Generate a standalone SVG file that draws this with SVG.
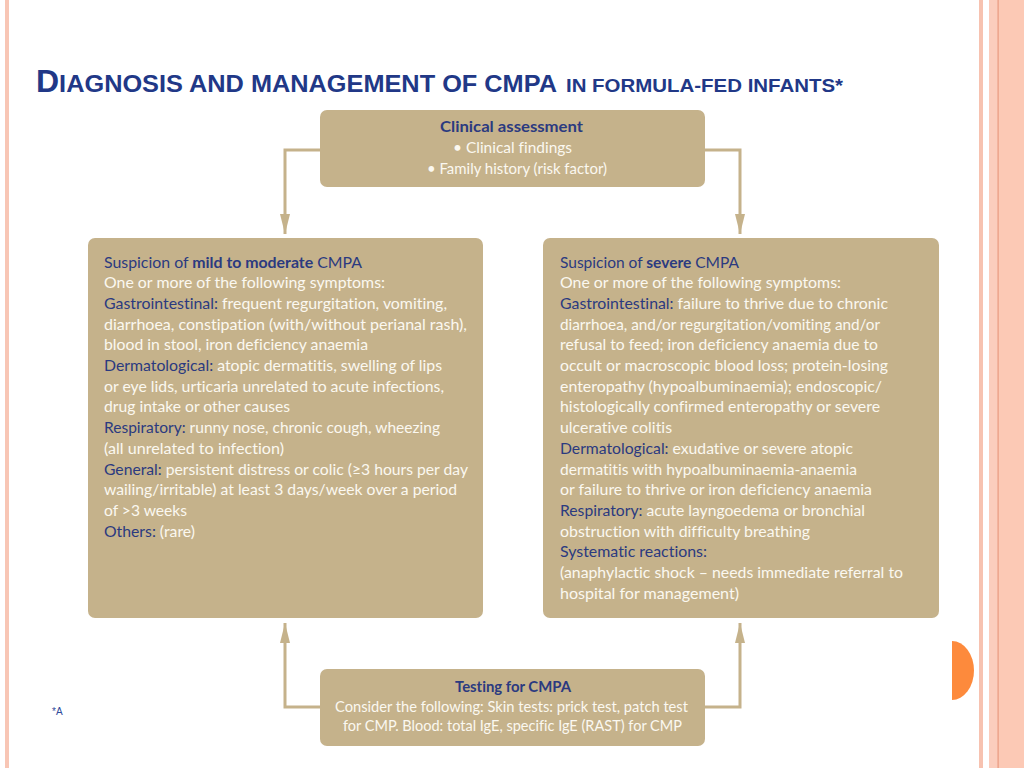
<svg xmlns="http://www.w3.org/2000/svg" width="1024" height="768" viewBox="0 0 1024 768">
<style>
.box{fill:#c5b28b}
.t{font-family:Lato,"Liberation Sans",sans-serif;font-size:16px;fill:#fbf8f0;font-variant-ligatures:none;font-feature-settings:"liga" 0,"clig" 0}
.b{fill:#2b3a80}
.bb{fill:#2b3a80;font-weight:bold}
.conn{fill:none;stroke:#c5b28b;stroke-width:3}
.title{font-family:"Liberation Sans",Arial,sans-serif;font-weight:bold;fill:#213887}
</style>
<defs>
<marker id="ah" viewBox="0 0 20 10" refX="20" refY="5" markerWidth="20" markerHeight="10" markerUnits="userSpaceOnUse" orient="auto">
<path d="M0,0 L20,5 L0,10 z" fill="#c5b28b"/>
</marker>
</defs>
<rect width="1024" height="768" fill="#ffffff"/>
<g id="decor">
<rect x="5" y="0" width="4" height="768" fill="#f8c6b5"/>
<rect x="979" y="0" width="4" height="768" fill="#f7c2b0"/>
<rect x="989" y="0" width="35" height="768" fill="#fcc9b5"/>
<rect x="989" y="0" width="9" height="768" fill="#fbcdbd"/>
<rect x="997.5" y="0" width="1.2" height="768" fill="#e99a80"/>
<path d="M952,641 A22,29.5 0 0 1 952,700 Z" fill="#fd8a3c"/>
</g>
<g id="title">
<text class="title" x="36" y="92" textLength="521" lengthAdjust="spacingAndGlyphs"><tspan font-size="31">D</tspan><tspan font-size="24.5">IAGNOSIS AND MANAGEMENT OF CMPA</tspan></text>
<text class="title" x="566" y="92" font-size="18" textLength="277" lengthAdjust="spacingAndGlyphs">IN FORMULA-FED INFANTS*</text>
</g>
<g id="connectors">
<path class="conn" d="M321,150 H285 V234" marker-end="url(#ah)"/>
<path class="conn" d="M704,150 H740 V234" marker-end="url(#ah)"/>
<path class="conn" d="M321,707 H285 V623" marker-end="url(#ah)"/>
<path class="conn" d="M704,707 H740 V623" marker-end="url(#ah)"/>
</g>
<g id="clinical-assessment">
<rect class="box" x="320" y="110" width="385" height="77" rx="7"/>
<text class="t" x="440" y="132" textLength="143" lengthAdjust="spacingAndGlyphs"><tspan class="bb">Clinical assessment</tspan></text>
<text class="t" x="453" y="153" textLength="119" lengthAdjust="spacingAndGlyphs">• Clinical findings</text>
<text class="t" x="427" y="174" textLength="180" lengthAdjust="spacingAndGlyphs">• Family history (risk factor)</text>
</g>
<g id="mild-moderate">
<rect class="box" x="88" y="238" width="395" height="380" rx="7"/>
<text class="t" x="104" y="267.5" textLength="258" lengthAdjust="spacingAndGlyphs"><tspan class="b">Suspicion of </tspan><tspan class="bb">mild to moderate</tspan><tspan class="b"> CMPA</tspan></text>
<text class="t" x="104" y="288.2" textLength="281" lengthAdjust="spacingAndGlyphs">One or more of the following symptoms:</text>
<text class="t" x="104" y="308.9" textLength="343" lengthAdjust="spacingAndGlyphs"><tspan class="b">Gastrointestinal:</tspan> frequent regurgitation, vomiting,</text>
<text class="t" x="104" y="329.6" textLength="363" lengthAdjust="spacingAndGlyphs">diarrhoea, constipation (with/without perianal rash),</text>
<text class="t" x="104" y="350.3" textLength="264" lengthAdjust="spacingAndGlyphs">blood in stool, iron deficiency anaemia</text>
<text class="t" x="104" y="371" textLength="338" lengthAdjust="spacingAndGlyphs"><tspan class="b">Dermatological:</tspan> atopic dermatitis, swelling of lips</text>
<text class="t" x="104" y="391.7" textLength="340" lengthAdjust="spacingAndGlyphs">or eye lids, urticaria unrelated to acute infections,</text>
<text class="t" x="104" y="412.4" textLength="186" lengthAdjust="spacingAndGlyphs">drug intake or other causes</text>
<text class="t" x="104" y="433.1" textLength="336" lengthAdjust="spacingAndGlyphs"><tspan class="b">Respiratory:</tspan> runny nose, chronic cough, wheezing</text>
<text class="t" x="104" y="453.8" textLength="180" lengthAdjust="spacingAndGlyphs">(all unrelated to infection)</text>
<text class="t" x="104" y="474.5" textLength="364" lengthAdjust="spacingAndGlyphs"><tspan class="b">General:</tspan> persistent distress or colic (≥3 hours per day</text>
<text class="t" x="104" y="495.2" textLength="353" lengthAdjust="spacingAndGlyphs">wailing/irritable) at least 3 days/week over a period</text>
<text class="t" x="104" y="515.9" textLength="83" lengthAdjust="spacingAndGlyphs">of &gt;3 weeks</text>
<text class="t" x="104" y="536.6" textLength="91" lengthAdjust="spacingAndGlyphs"><tspan class="b">Others:</tspan> (rare)</text>
</g>
<g id="severe">
<rect class="box" x="543" y="238" width="396" height="380" rx="7"/>
<text class="t" x="560" y="267.5" textLength="179" lengthAdjust="spacingAndGlyphs"><tspan class="b">Suspicion of </tspan><tspan class="bb">severe</tspan><tspan class="b"> CMPA</tspan></text>
<text class="t" x="560" y="288.2" textLength="281" lengthAdjust="spacingAndGlyphs">One or more of the following symptoms:</text>
<text class="t" x="560" y="308.9" textLength="328" lengthAdjust="spacingAndGlyphs"><tspan class="b">Gastrointestinal:</tspan> failure to thrive due to chronic</text>
<text class="t" x="560" y="329.6" textLength="320" lengthAdjust="spacingAndGlyphs">diarrhoea, and/or regurgitation/vomiting and/or</text>
<text class="t" x="560" y="350.3" textLength="318" lengthAdjust="spacingAndGlyphs">refusal to feed; iron deficiency anaemia due to</text>
<text class="t" x="560" y="371" textLength="328" lengthAdjust="spacingAndGlyphs">occult or macroscopic blood loss; protein-losing</text>
<text class="t" x="560" y="391.7" textLength="322" lengthAdjust="spacingAndGlyphs">enteropathy (hypoalbuminaemia); endoscopic/</text>
<text class="t" x="560" y="412.4" textLength="320" lengthAdjust="spacingAndGlyphs">histologically confirmed enteropathy or severe</text>
<text class="t" x="560" y="433.1" textLength="112" lengthAdjust="spacingAndGlyphs">ulcerative colitis</text>
<text class="t" x="560" y="453.8" textLength="293" lengthAdjust="spacingAndGlyphs"><tspan class="b">Dermatological:</tspan> exudative or severe atopic</text>
<text class="t" x="560" y="474.5" textLength="297" lengthAdjust="spacingAndGlyphs">dermatitis with hypoalbuminaemia-anaemia</text>
<text class="t" x="560" y="495.2" textLength="312" lengthAdjust="spacingAndGlyphs">or failure to thrive or iron deficiency anaemia</text>
<text class="t" x="560" y="515.9" textLength="305" lengthAdjust="spacingAndGlyphs"><tspan class="b">Respiratory:</tspan> acute layngoedema or bronchial</text>
<text class="t" x="560" y="536.6" textLength="250" lengthAdjust="spacingAndGlyphs">obstruction with difficulty breathing</text>
<text class="t" x="560" y="557.3" textLength="147" lengthAdjust="spacingAndGlyphs"><tspan class="b">Systematic reactions:</tspan></text>
<text class="t" x="560" y="578" textLength="343" lengthAdjust="spacingAndGlyphs">(anaphylactic shock – needs immediate referral to</text>
<text class="t" x="560" y="598.7" textLength="179" lengthAdjust="spacingAndGlyphs">hospital for management)</text>
</g>
<g id="testing">
<rect class="box" x="320" y="669" width="385" height="77" rx="7"/>
<text class="t" x="455" y="692" textLength="116" lengthAdjust="spacingAndGlyphs"><tspan class="bb">Testing for CMPA</tspan></text>
<text class="t" x="335" y="711.5" textLength="353" lengthAdjust="spacingAndGlyphs">Consider the following: Skin tests: prick test, patch test</text>
<text class="t" x="343" y="731" textLength="339" lengthAdjust="spacingAndGlyphs">for CMP. Blood: total IgE, specific IgE (RAST) for CMP</text>
</g>
<g id="footnote">
<text x="52" y="715" font-family="Liberation Sans,Arial,sans-serif" font-size="10" fill="#2e4a9a">*A</text>
</g>
</svg>
